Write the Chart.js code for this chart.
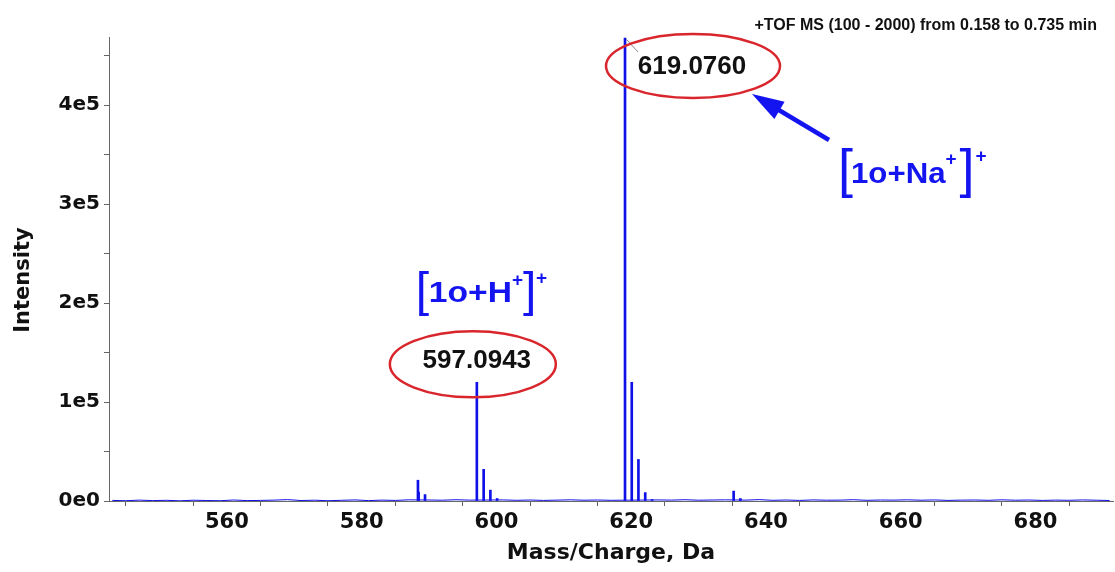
<!DOCTYPE html>
<html>
<head>
<meta charset="utf-8">
<script src="https://cdn.jsdelivr.net/npm/chart.js@4.4.1/dist/chart.umd.min.js"></script>
<style>
  html, body { margin: 0; padding: 0; background: #fff; }
  #wrap { width: 1115px; height: 572px; }
</style>
</head>
<body>
<div id="wrap"><canvas id="msChart"></canvas></div>
<script>
// centroid peaks (m/z, counts)
const peakMz = [588.35, 588.45, 589.40, 597.09, 598.10, 599.10, 600.10,
                619.08, 620.08, 621.07, 622.08, 623.10, 635.20, 636.20];
const peakIntensity = [21000, 9000, 6500, 120000, 32000, 11000, 2500,
                       468000, 120000, 42000, 8500, 1500, 10000, 2500];

// baseline noise along the scan
const noiseMz = [543, 545, 547, 549, 551, 553, 555, 557, 559, 561, 563, 565, 567, 569,
                 571, 573, 575, 577, 579, 581, 583, 585, 587, 590, 592, 594, 596, 601,
                 603, 605, 607, 609, 611, 613, 615, 617, 624, 626, 628, 630, 632, 634,
                 637, 639, 641, 643, 645, 647, 649, 651, 653, 655, 657, 659, 661, 663,
                 665, 667, 669, 671, 673, 675, 677, 679, 681, 683, 685, 687, 689, 691];
const noiseIntensity = [600, 300, 900, 400, 700, 200, 800, 500, 300, 1000, 400, 600, 900, 1400,
                        500, 800, 300, 700, 1100, 400, 900, 600, 1200, 1000, 800, 1300, 900, 1100,
                        700, 1000, 600, 900, 1200, 800, 1000, 700, 1100, 900, 1300, 800, 1000, 1200,
                        900, 1400, 700, 1000, 600, 1100, 800, 900, 1300, 700, 1000, 900, 1200, 800,
                        1100, 600, 900, 1000, 700, 1200, 800, 1000, 600, 900, 700, 1100, 800, 500];

const xTickValues = [550, 560, 570, 580, 590, 600, 610, 620, 630, 640, 650, 660, 670, 680, 690];
const yTickValues = [0, 50000, 100000, 150000, 200000, 250000, 300000, 350000, 400000, 450000];

const specBlue = '#1010e8';
const ionBlue = '#1414f0';
const ringRed = '#d9262c';

function drawText(ctx, str, x, y, font, color, align, scaleX) {
  ctx.save();
  ctx.font = font;
  ctx.fillStyle = color;
  ctx.textAlign = align || 'left';
  ctx.textBaseline = 'alphabetic';
  ctx.translate(x, y);
  ctx.scale(scaleX || 1, 1);
  ctx.fillText(str, 0, 0);
  ctx.restore();
}

function drawRing(ctx, cx, cy, rx, ry) {
  ctx.save();
  ctx.strokeStyle = ringRed;
  ctx.lineWidth = 2.5;
  ctx.beginPath();
  ctx.ellipse(cx, cy, rx, ry, 0, 0, Math.PI * 2);
  ctx.stroke();
  ctx.restore();
}

// "[core+]+" ion label, x0 = left edge of the opening bracket, y = text baseline
function drawIon(ctx, x0, y, core, o) {
  const bracketFont = o.bracket + 'px "Liberation Sans", Arial, sans-serif';
  const coreFont = 'bold 30px "Liberation Sans", Arial, sans-serif';
  const supFont = 'bold 19px "Liberation Sans", Arial, sans-serif';
  ctx.save();
  ctx.font = coreFont;
  const coreW = ctx.measureText(core).width * o.scaleX;
  ctx.restore();
  drawText(ctx, '[', x0 - 4, y + 4, bracketFont, ionBlue, 'left', 1);
  const cx = x0 + 9;
  drawText(ctx, core, cx, y, coreFont, ionBlue, 'left', o.scaleX);
  const sx = cx + coreW;
  drawText(ctx, '+', sx, y - o.supLift, supFont, ionBlue, 'left', 1);
  drawText(ctx, ']', sx + o.closeGap, y + 4, bracketFont, ionBlue, 'left', 1);
  drawText(ctx, '+', sx + o.outerGap, y - o.outerLift, supFont, ionBlue, 'left', 1);
}

const annotations = {
  id: 'annotations',
  afterDraw(chart) {
    const { ctx, chartArea, scales: { x, y } } = chart;

    drawText(ctx, '+TOF MS (100 - 2000) from 0.158 to 0.735 min', 1097, 30,
      'bold 16px "Liberation Sans", Arial, sans-serif', '#111', 'right', 1);

    // y axis title
    ctx.save();
    ctx.translate(24, (chartArea.top + chartArea.bottom) / 2 + 11);
    ctx.rotate(-Math.PI / 2);
    ctx.font = 'bold 21px "DejaVu Sans", sans-serif';
    ctx.fillStyle = '#111';
    ctx.textAlign = 'center';
    ctx.textBaseline = 'middle';
    ctx.fillText('Intensity', 0, 0);
    ctx.restore();

    // Na adduct
    const naX = x.getPixelForValue(619.08);
    const naY = y.getPixelForValue(468000);
    ctx.save();
    ctx.strokeStyle = '#888';
    ctx.lineWidth = 1;
    ctx.beginPath();
    ctx.moveTo(naX + 1, naY + 1);
    ctx.lineTo(naX + 13, naY + 14);
    ctx.stroke();
    ctx.restore();
    drawRing(ctx, naX + 68, naY + 28, 87, 32);
    drawText(ctx, '619.0760', naX + 67, naY + 36,
      'bold 26px "Liberation Sans", Arial, sans-serif', '#111', 'center', 1);

    // arrow to the Na label
    const tipX = naX + 127, tipY = naY + 56;
    const tailX = naX + 204, tailY = naY + 102;
    const ang = Math.atan2(tipY - tailY, tipX - tailX);
    ctx.save();
    ctx.strokeStyle = ionBlue;
    ctx.fillStyle = ionBlue;
    ctx.lineWidth = 4.5;
    ctx.beginPath();
    ctx.moveTo(tailX, tailY);
    ctx.lineTo(tipX - 20 * Math.cos(ang), tipY - 20 * Math.sin(ang));
    ctx.stroke();
    ctx.beginPath();
    ctx.moveTo(tipX, tipY);
    ctx.lineTo(tipX - 32 * Math.cos(ang) + 10 * Math.sin(ang), tipY - 32 * Math.sin(ang) - 10 * Math.cos(ang));
    ctx.lineTo(tipX - 32 * Math.cos(ang) - 10 * Math.sin(ang), tipY - 32 * Math.sin(ang) + 10 * Math.cos(ang));
    ctx.closePath();
    ctx.fill();
    ctx.restore();
    drawIon(ctx, naX + 217, naY + 145, '1o+Na',
      { bracket: 54, scaleX: 1.04, supLift: 18, closeGap: 14, outerGap: 30, outerLift: 21 });

    // protonated ion
    const hX = x.getPixelForValue(597.09);
    const hY = y.getPixelForValue(120000);
    drawRing(ctx, hX - 4, hY - 18, 83, 33);
    drawText(ctx, '597.0943', hX, hY - 14,
      'bold 26px "Liberation Sans", Arial, sans-serif', '#111', 'center', 1);
    drawIon(ctx, hX - 57, hY - 80, '1o+H',
      { bracket: 48, scaleX: 1.12, supLift: 16, closeGap: 11, outerGap: 24, outerLift: 18 });
  }
};

const tickFontY = { family: '"DejaVu Sans", sans-serif', size: 20, weight: 'bold' };
const tickFontX = { family: '"DejaVu Sans", sans-serif', size: 21, weight: 'bold' };

new Chart(document.getElementById('msChart'), {
  type: 'bar',
  data: {
    datasets: [
      {
        type: 'bar',
        label: 'peaks',
        data: peakMz.map((m, i) => ({ x: m, y: peakIntensity[i] })),
        backgroundColor: specBlue,
        barThickness: 2,
        order: 1
      },
      {
        type: 'line',
        label: 'baseline',
        data: noiseMz.map((m, i) => ({ x: m, y: noiseIntensity[i] })),
        borderColor: specBlue,
        borderWidth: 1,
        pointRadius: 0,
        tension: 0,
        order: 2
      }
    ]
  },
  options: {
    responsive: true,
    maintainAspectRatio: false,
    animation: false,
    layout: { padding: { top: 37, right: 2, left: 0, bottom: 0 } },
    plugins: {
      legend: { display: false },
      tooltip: { enabled: false }
    },
    scales: {
      x: {
        type: 'linear',
        min: 542.5,
        max: 691.5,
        offset: false,
        afterBuildTicks: scale => { scale.ticks = xTickValues.map(v => ({ value: v })); },
        afterFit: scale => { scale.height = 71; },
        grid: { drawOnChartArea: false, tickLength: 5, color: '#666' },
        border: { color: '#666', width: 1 },
        ticks: {
          autoSkip: false,
          maxRotation: 0,
          padding: 4,
          color: '#111',
          font: tickFontX,
          callback: v => (v % 20 === 0 ? String(v) : '')
        },
        title: {
          display: true,
          text: 'Mass/Charge, Da',
          color: '#111',
          font: { family: '"DejaVu Sans", sans-serif', size: 22, weight: 'bold' },
          padding: { top: 0, bottom: 6 }
        }
      },
      y: {
        min: 0,
        max: 469000,
        afterBuildTicks: scale => { scale.ticks = yTickValues.map(v => ({ value: v })); },
        afterFit: scale => { scale.width = 109; },
        grid: { drawOnChartArea: false, tickLength: 5, color: '#666' },
        border: { color: '#666', width: 1 },
        ticks: {
          padding: 4,
          color: '#111',
          font: tickFontY,
          callback: v => (v % 100000 !== 0 ? '' : (v === 0 ? '0e0' : (v / 100000) + 'e5'))
        },
        title: { display: false }
      }
    }
  },
  plugins: [annotations]
});
</script>
</body>
</html>
